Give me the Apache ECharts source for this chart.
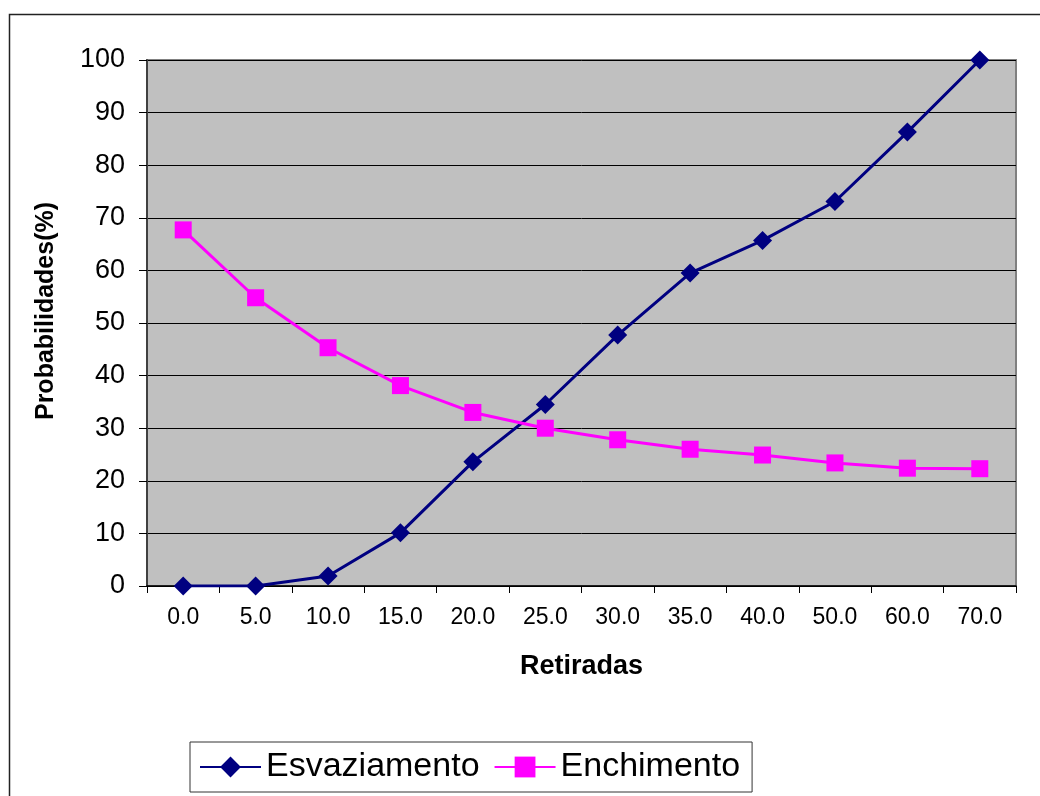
<!DOCTYPE html>
<html>
<head>
<meta charset="utf-8">
<script src="https://cdn.jsdelivr.net/npm/echarts@6/dist/echarts.min.js"></script>
<style>
  html, body { margin: 0; padding: 0; background: #ffffff; }
  #chart { width: 1040px; height: 796px; }
</style>
</head>
<body>
<div id="chart"></div>
<script>
// Withdrawal levels (x categories)
var categories = ['0.0', '5.0', '10.0', '15.0', '20.0', '25.0', '30.0', '35.0', '40.0', '50.0', '60.0', '70.0'];
// Probability of emptying (%)
var esvaziamento = [0, 0, 1.9, 10.1, 23.6, 34.5, 47.7, 59.5, 65.7, 73.1, 86.3, 100];
// Probability of filling (%)
var enchimento = [67.7, 54.8, 45.3, 38.1, 33.0, 30.0, 27.8, 26.0, 24.9, 23.4, 22.4, 22.3];

var FONT = '"Liberation Sans", Arial, sans-serif';

var chart = echarts.init(document.getElementById('chart'), null, { renderer: 'canvas' });

chart.setOption({
  animation: false,
  backgroundColor: '#ffffff',
  graphic: [{
    type: 'rect',
    shape: { x: 9.5, y: 14.5, width: 1100, height: 900 },
    style: { fill: 'none', stroke: '#222222', lineWidth: 1.5 },
    silent: true,
    z: -1
  }],
  grid: {
    left: 147, top: 60, right: 24, bottom: 210,
    show: true,
    backgroundColor: '#C0C0C0',
    borderColor: '#808080',
    borderWidth: 2
  },
  legend: {
    left: 190, top: 742,
    orient: 'horizontal',
    borderColor: '#333333',
    borderWidth: 1,
    padding: [7, 12, 7, 9],
    itemWidth: 61,
    itemHeight: 26,
    itemGap: 14,
    textStyle: { fontFamily: FONT, fontSize: 34, color: '#000000', lineHeight: 34, padding: [2, 0, 0, 0] },
    data: ['Esvaziamento', 'Enchimento']
  },
  xAxis: {
    type: 'category',
    data: categories,
    boundaryGap: true,
    name: 'Retiradas',
    nameLocation: 'middle',
    nameGap: 67,
    nameTextStyle: { fontFamily: FONT, fontSize: 27, fontWeight: 'bold', color: '#000000' },
    axisLine: { lineStyle: { color: '#000000', width: 1.5 } },
    axisTick: { show: true, length: 7, alignWithLabel: false, lineStyle: { color: '#000000', width: 1 } },
    axisLabel: { fontFamily: FONT, fontSize: 23, color: '#000000', margin: 20, interval: 0 },
    splitLine: { show: false }
  },
  yAxis: {
    type: 'value',
    min: 0,
    max: 100,
    interval: 10,
    name: 'Probabilidades(%)',
    nameLocation: 'middle',
    nameGap: 88,
    nameRotate: 90,
    nameTextStyle: { fontFamily: FONT, fontSize: 25, fontWeight: 'bold', color: '#000000', padding: [0, 0, 0, 24] },
    axisLine: { show: true, lineStyle: { color: '#404040', width: 2 } },
    axisTick: { show: true, length: 8, lineStyle: { color: '#000000', width: 1 } },
    axisLabel: { fontFamily: FONT, fontSize: 27, color: '#000000', margin: 22 },
    splitLine: { show: true, lineStyle: { color: '#000000', width: 1 } }
  },
  series: [
    {
      name: 'Esvaziamento',
      type: 'line',
      data: esvaziamento,
      symbol: 'diamond',
      symbolSize: 19,
      lineStyle: { color: '#000080', width: 3 },
      itemStyle: { color: '#000080' }
    },
    {
      name: 'Enchimento',
      type: 'line',
      data: enchimento,
      symbol: 'rect',
      symbolSize: 17,
      lineStyle: { color: '#FF00FF', width: 3 },
      itemStyle: { color: '#FF00FF' }
    }
  ]
});
</script>
</body>
</html>
